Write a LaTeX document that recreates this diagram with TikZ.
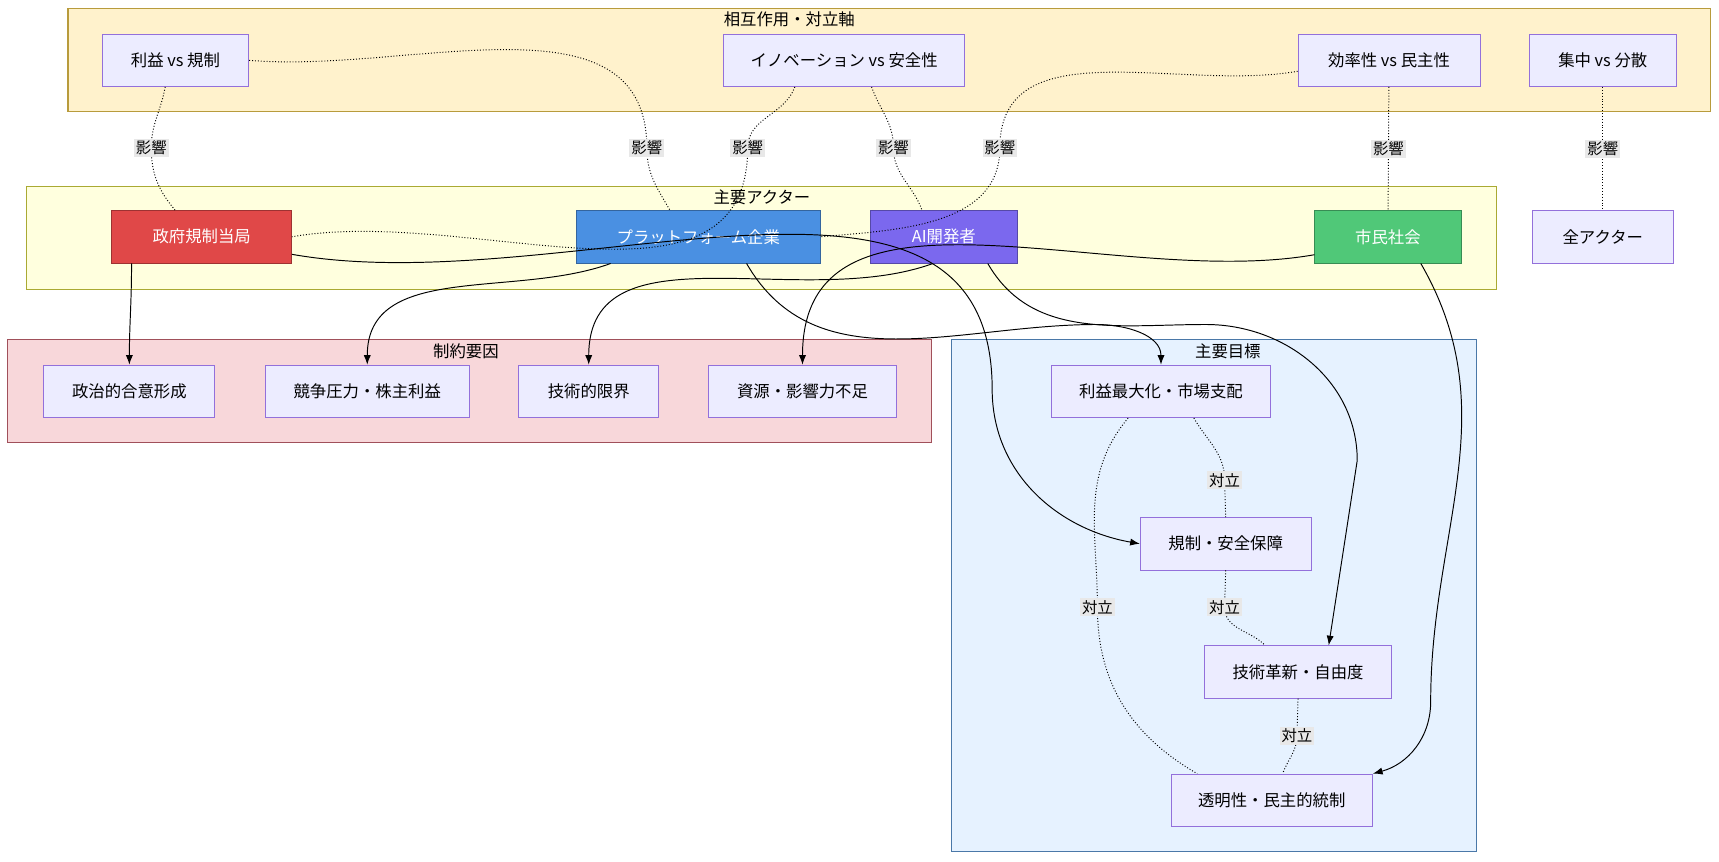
\documentclass[tikz,border=0pt]{standalone}
\usepackage{fontspec}
\setmainfont{Noto Sans CJK JP}
\usetikzlibrary{positioning,arrows.meta,calc}
\definecolor{boxfill}{HTML}{ECECFF}
\definecolor{boxline}{HTML}{9370DB}
\definecolor{axisfill}{HTML}{FFF2CC}
\definecolor{axisline}{HTML}{B89B3C}
\definecolor{actfill}{HTML}{FFFFDE}
\definecolor{actline}{HTML}{AAAA33}
\definecolor{limfill}{HTML}{F8D7DA}
\definecolor{limline}{HTML}{A0505A}
\definecolor{goalfill}{HTML}{E6F2FF}
\definecolor{goalline}{HTML}{4A78A8}
\definecolor{govred}{HTML}{E04848}
\definecolor{platblue}{HTML}{4A90E2}
\definecolor{aipurple}{HTML}{7B68EE}
\definecolor{civgreen}{HTML}{50C878}
\tikzset{
  box/.style={draw=boxline, fill=boxfill, minimum height=0.96cm, inner sep=0pt, font=\fontsize{8.5}{10}\selectfont},
  actor/.style={box, text=white},
  grp/.style={line width=0.6pt},
  ttl/.style={font=\fontsize{8.5}{10}\selectfont},
  lbl/.style={fill=black!9, inner sep=1pt, font=\fontsize{8}{9}\selectfont},
  infl/.style={densely dotted, line width=0.5pt},
  goal/.style={-{Latex[length=5pt]}, line width=0.5pt}
}
\begin{document}
\begin{tikzpicture}[x=0.02cm, y=-0.02cm]
  \useasboundingbox (0,0) rectangle (1568,786);
  % groups
  \draw[grp, draw=axisline, fill=axisfill] (62,8) rectangle (1560,102);
  \node[ttl] at (720,18) {相互作用・対立軸};
  \draw[grp, draw=actline, fill=actfill] (24,170) rectangle (1365,264);
  \node[ttl] at (695,180) {主要アクター};
  \draw[grp, draw=limline, fill=limfill] (7,310) rectangle (850,404);
  \node[ttl] at (425,320) {制約要因};
  \draw[grp, draw=goalline, fill=goalfill] (868,310) rectangle (1347,777);
  \node[ttl] at (1120,320) {主要目標};

  % axes
  \node[box, minimum width=2.68cm] (pvr) at (160,55) {利益 vs 規制};
  \node[box, minimum width=4.4cm] (ivs) at (770,55) {イノベーション vs 安全性};
  \node[box, minimum width=3.32cm] (evd) at (1267,55) {効率性 vs 民主性};
  \node[box, minimum width=2.68cm] (cvd) at (1462,55) {集中 vs 分散};

  % actors
  \node[actor, fill=govred, draw=govred!70!black, minimum width=3.28cm] (gov) at (184,216) {政府規制当局};
  \node[actor, fill=platblue, draw=platblue!70!black, minimum width=4.44cm] (plat) at (637,216) {プラットフォーム企業};
  \node[actor, fill=aipurple, draw=aipurple!70!black, minimum width=2.68cm] (ai) at (861,216) {AI開発者};
  \node[actor, fill=civgreen, draw=civgreen!70!black, minimum width=2.68cm] (civ) at (1266,216) {市民社会};
  \node[box, minimum width=2.56cm] (all) at (1462,216) {全アクター};

  % limits
  \node[box, minimum width=3.12cm] (pol) at (118,357) {政治的合意形成};
  \node[box, minimum width=3.72cm] (comp) at (335,357) {競争圧力・株主利益};
  \node[box, minimum width=2.56cm] (tech) at (537,357) {技術的限界};
  \node[box, minimum width=3.44cm] (res) at (732,357) {資源・影響力不足};

  % goals
  \node[box, minimum width=4cm] (prof) at (1059,357) {利益最大化・市場支配};
  \node[box, minimum width=3.12cm] (reg) at (1118,496) {規制・安全保障};
  \node[box, minimum width=3.4cm] (inno) at (1184,613) {技術革新・自由度};
  \node[box, minimum width=3.68cm] (demo) at (1160,730) {透明性・民主的統制};

  % influences
  \draw[infl] ($(pvr.south west)+(58,0)$) to[out=-100,in=90] (138,135) node[lbl] {影響} to[out=-90,in=130] ($(gov.north west)+(58,0)$);
  \draw[infl] (pvr.east) to[out=-5,in=90] (590,135) node[lbl] {影響} to[out=-90,in=120] ($(plat.north)+(-26,0)$);
  \draw[infl] ($(ivs.south)+(-45,0)$) to[out=-110,in=90] (682,135) node[lbl] {影響} to[out=-90,in=10] (gov.east);
  \draw[infl] ($(ivs.south)+(25,0)$) to[out=-70,in=90] (815,135) node[lbl] {影響} to[out=-90,in=110] ($(ai.north)+(-20,0)$);
  \draw[infl] ($(evd.west)+(0,10)$) to[out=190,in=90] (912,135) node[lbl] {影響} to[out=-90,in=5] (plat.east);
  \draw[infl] (evd) -- node[lbl] {影響} (civ);
  \draw[infl] (cvd) -- node[lbl] {影響} (all);

  % actor goals and limits
  \draw[goal] ($(gov.south)+(-64,0)$) to[out=-90,in=90] (pol.north);
  \draw[goal] ($(gov.east)+(0,16)$) to[out=-10,in=90] (905,355) to[out=-90,in=170] (reg.west);
  \draw[goal] ($(plat.south)+(-80,0)$) to[out=-160,in=90] (comp.north);
  \draw[goal] ($(plat.south)+(44,0)$) to[out=-60,in=180] (1000,296) to[out=0,in=90] (prof.north);
  \draw[goal] ($(ai.south)+(-10,0)$) to[out=-160,in=90] (tech.north);
  \draw[goal] ($(ai.south)+(40,0)$) to[out=-60,in=180] (1100,296) to[out=0,in=90] (1238,420) -- ($(inno.north)+(28,0)$);
  \draw[goal] ($(civ.south)+(-67,-8)$) to[out=190,in=90] (res.north);
  \draw[goal] ($(civ.south)+(30,0)$) to[out=-60,in=90] (1305,640) to[out=-90,in=15] (demo.north east);

  % conflicts
  \draw[infl] ($(prof.south)+(30,0)$) to[out=-60,in=90] (1117,438) node[lbl] {対立} -- (reg.north);
  \draw[infl] (reg.south) -- (1117,554) node[lbl] {対立} to[out=-90,in=135] ($(inno.north)+(-30,0)$);
  \draw[infl] (inno.south) -- (1183,671) node[lbl] {対立} to[out=-90,in=70] ($(demo.north)+(10,0)$);
  \draw[infl] ($(prof.south)+(-30,0)$) to[out=-130,in=90] (1001,554) node[lbl] {対立} to[out=-90,in=150] ($(demo.north)+(-68,0)$);
\end{tikzpicture}
\end{document}
